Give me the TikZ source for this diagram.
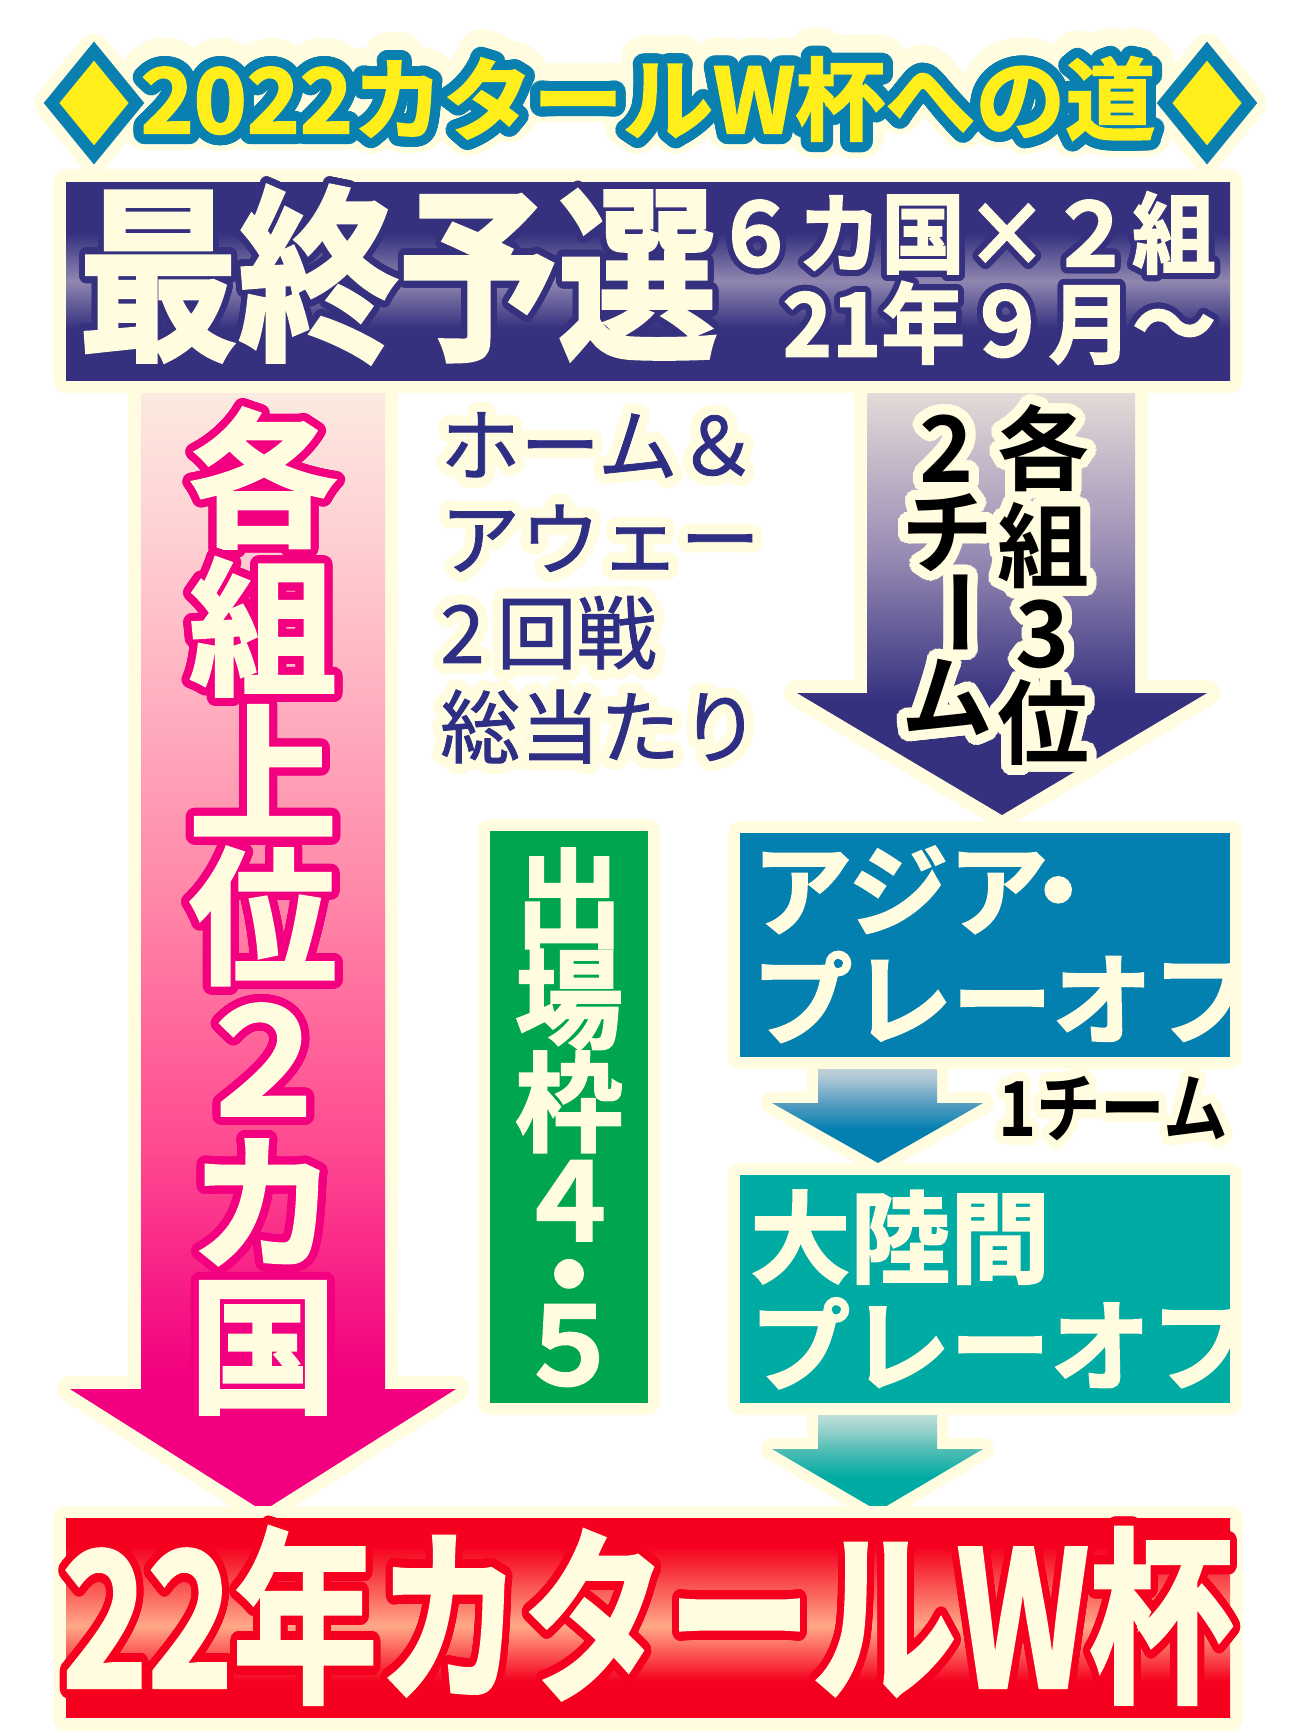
\documentclass[tikz,border=0pt]{standalone}
\usepackage{fontspec}
\usepackage{graphicx}
\usepackage[copies]{contour}
\usetikzlibrary{shapes.geometric}

\newfontfamily\jpheavy{Noto Sans CJK JP}[UprightFont=* Bold, FakeBold=2]
\newfontfamily\jpbold{Noto Sans CJK JP}[UprightFont=* Bold]
\newfontfamily\jplight{Noto Sans CJK JP}[FakeBold=1]

\definecolor{cream}{HTML}{FFFCDF}
\definecolor{titleblue}{HTML}{0A80B0}
\definecolor{titleyellow}{HTML}{FFEE1A}
\definecolor{navy}{HTML}{35317F}
\definecolor{navylight}{HTML}{9087B0}
\definecolor{navymid}{HTML}{9A8DB5}
\definecolor{navytop}{HTML}{EDE3DC}
\definecolor{pinkdeep}{HTML}{F2007F}
\definecolor{pinkhot}{HTML}{FF4A90}
\definecolor{pinkmid}{HTML}{FF87A8}
\definecolor{pinksoft}{HTML}{FFC3CB}
\definecolor{pinktop}{HTML}{FCEDE2}
\definecolor{playblue}{HTML}{0480B0}
\definecolor{playteal}{HTML}{00ABA3}
\definecolor{slotgreen}{HTML}{00A550}
\definecolor{wcred}{HTML}{F5001E}
\definecolor{wclight}{HTML}{FFA888}
\definecolor{textnavy}{HTML}{2E2E85}

\contournumber{48}
\newcommand\outlined[3]{{\contourlength{#1}\contour{#2}{#3}}}
\newcommand\pinkout[1]{\outlined{8pt}{pinkdeep}{#1}}
\newcommand\creamout[1]{\outlined{10pt}{cream}{#1}}

% shadings: the path box spans 25bp (bottom) to 75bp (top)
\pgfdeclareverticalshading{navyband}{100bp}{color(0bp)=(navy); color(25bp)=(navy); color(38bp)=(navy); color(50bp)=(navylight); color(62bp)=(navy); color(75bp)=(navy); color(100bp)=(navy)}
\pgfdeclareverticalshading{redband}{100bp}{color(0bp)=(wcred); color(25bp)=(wcred); color(34bp)=(wcred); color(48bp)=(wclight); color(68bp)=(wcred); color(75bp)=(wcred); color(100bp)=(wcred)}
\pgfdeclareverticalshading{pinkfade}{100bp}{color(0bp)=(pinkdeep); color(25bp)=(pinkdeep); color(31bp)=(pinkdeep); color(41bp)=(pinkhot); color(52bp)=(pinkmid); color(65bp)=(pinksoft); color(75bp)=(pinktop); color(100bp)=(pinktop)}
\pgfdeclareverticalshading{navyfade}{100bp}{color(0bp)=(navy); color(25bp)=(navy); color(38bp)=(navy); color(55bp)=(navymid); color(75bp)=(navytop); color(100bp)=(navytop)}
\pgfdeclareverticalshading{bluefade}{100bp}{color(0bp)=(playblue); color(25bp)=(playblue); color(40bp)=(playblue); color(52bp)=(rgb,255:red,90;green,158;blue,194); color(62bp)=(rgb,255:red,169;green,197;blue,213); color(75bp)=(rgb,255:red,236;green,232;blue,222); color(100bp)=(rgb,255:red,236;green,232;blue,222)}
\pgfdeclareverticalshading{tealfade}{100bp}{color(0bp)=(playteal); color(25bp)=(playteal); color(40bp)=(playteal); color(52bp)=(rgb,255:red,80;green,189;blue,181); color(62bp)=(rgb,255:red,160;green,212;blue,206); color(75bp)=(rgb,255:red,228;green,238;blue,230); color(100bp)=(rgb,255:red,228;green,238;blue,230)}

\begin{document}
\begin{tikzpicture}[x=1pt, y=-1pt,
    halo/.style={preaction={draw=cream, line width=#1, line join=round}},
    halo/.default=26pt,
    panel/.style={inner sep=0pt},
    label/.style={inner sep=0pt, text=cream, align=center}]
\useasboundingbox (0,0) rectangle (1300,1732);
\fill[white] (0,0) rectangle (1300,1732);

% title
\node[label, font=\jpheavy\fontsize{90}{90}\selectfont] (road_glow) at (648,104) {\outlined{22pt}{cream}{2022カタールW杯への道}};
\node[diamond, halo=34pt, fill=titleyellow, draw=titleblue, line width=12pt, inner sep=0pt, minimum width=90, minimum height=109] (diamond_left) at (94,103) {};
\node[diamond, halo=34pt, fill=titleyellow, draw=titleblue, line width=12pt, inner sep=0pt, minimum width=90, minimum height=109] (diamond_right) at (1207,103) {};
\node[label, text=titleyellow, font=\jpheavy\fontsize{90}{90}\selectfont] (road) at (648,104) {\outlined{10pt}{titleblue}{2022カタールW杯への道}};

% block arrows
\path[halo, shade, shading=pinkfade] (141,375) -- (385,375) -- (385,1389) -- (456,1389) -- (263,1511) -- (70,1389) -- (141,1389) -- cycle;
\path[halo, shade, shading=navyfade] (867,375) -- (1135,375) -- (1135,693) -- (1207,693) -- (1002,815) -- (797,693) -- (867,693) -- cycle;
\path[halo=22pt, shade, shading=bluefade] (818,1050) -- (937,1050) -- (937,1103) -- (983,1103) -- (878,1163) -- (772,1103) -- (818,1103) -- cycle;
\path[halo=22pt, shade, shading=tealfade] (818,1398) -- (937,1398) -- (937,1449) -- (983,1449) -- (878,1511) -- (772,1449) -- (818,1449) -- cycle;

% boxes
\node[panel, halo, shade, shading=navyband, minimum width=1164, minimum height=198] (final_box) at (648,281) {};
\node[panel, halo=24pt, fill=slotgreen, minimum width=158, minimum height=572] (slots_box) at (569,1117) {};
\node[panel, halo=24pt, fill=playblue, minimum width=490, minimum height=224] (asia_box) at (985,945) {};
\node[panel, halo=24pt, fill=playteal, minimum width=490, minimum height=228] (inter_box) at (985,1289) {};
\node[panel, halo, shade, shading=redband, minimum width=1164, minimum height=199] (wc_box) at (648,1618) {};

% texts
\node[label, font=\jpheavy\fontsize{188}{188}\selectfont] (final_title) at (398,278) {\scalebox{0.85}[1]{\outlined{7pt}{navy}{最終予選}}};
\node[label, anchor=east, align=right, font=\jpheavy\fontsize{88}{86}\selectfont] (final_info) at (1216,281)
  {\scalebox{0.95}[1]{\outlined{6pt}{navy}{６カ国×２組}}\\\scalebox{0.95}[1]{\outlined{6pt}{navy}{21年９月〜}}};

\node[label, font=\jpheavy\fontsize{148}{143}\selectfont] (top2_label) at (263,915)
  {\pinkout{各}\\\pinkout{組}\\\pinkout{上}\\\pinkout{位}\\\pinkout{２}\\\pinkout{カ}\\\pinkout{国}};

\node[anchor=north west, align=left, inner sep=0pt, text=textnavy, font=\jplight\fontsize{80}{94}\selectfont] (format_text) at (440,412)
  {\creamout{ホーム＆}\\\creamout{アウェー}\\\creamout{2\kern12pt回戦}\\\creamout{総当たり}};

\node[label, text=black, font=\jpbold\fontsize{92}{85}\selectfont] (third_label) at (1043,590)
  {\creamout{各}\\\creamout{組}\\\creamout{3}\\\creamout{位}};
\node[label, text=black, font=\jpbold\fontsize{92}{82}\selectfont] (second_label) at (947,580)
  {\creamout{2}\\\creamout{チ}\\\creamout{\smash{\raisebox{0.15em}{\rotatebox[origin=c]{-90}{ー}}}}\\\creamout{ム}};

\node[label, anchor=north, font=\jpheavy\fontsize{108}{98}\selectfont] (slots_label) at (569,848)
  {出\\場\\枠\\４\\[-24pt]・\\[-28pt]５};

\node[label, anchor=north west, align=left, font=\jpheavy\fontsize{100}{109}\selectfont] (asia_label) at (752,846) {アジア\kern-40pt・\\プレーオフ};
\node[label, anchor=north west, align=left, font=\jpheavy\fontsize{100}{108}\selectfont] (inter_label) at (750,1190) {大陸間\\プレーオフ};

\node[label, text=black, font=\jpbold\fontsize{76}{76}\selectfont] (one_team) at (1113,1113) {\scalebox{0.85}[1]{\outlined{9pt}{cream}{1チーム}}};

\node[label, font=\jpheavy\fontsize{188}{188}\selectfont] (wc_label) at (648,1620) {\scalebox{0.77}[1]{\outlined{9pt}{wcred}{22年カタールW杯}}};
\end{tikzpicture}
\end{document}
